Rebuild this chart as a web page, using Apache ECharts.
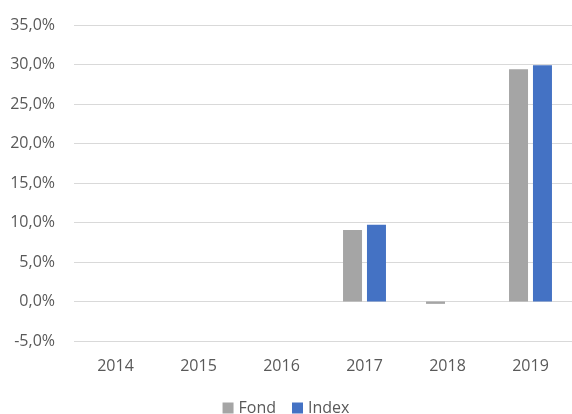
<!DOCTYPE html>
<html><head><meta charset="utf-8">
<script src="https://cdn.jsdelivr.net/npm/echarts@6/dist/echarts.min.js"></script>
<style>html,body{margin:0;padding:0;background:#fff;overflow:hidden}#c{width:572px;height:414px}</style>
</head><body><div id="c"></div>
<script>
const categories = ['2014','2015','2016','2017','2018','2019'];
const fond = [null, null, null, 9.05, -0.3, 29.4];
const index = [null, null, null, 9.7, null, 29.9];
const yTicks = {min: -5, max: 35, interval: 5};

const chart = echarts.init(document.getElementById('c'));
const font = 'Open Sans, Liberation Sans, sans-serif';
chart.setOption({
  animation: false,
  textStyle: {fontFamily: font},
  grid: {left: 74, right: -4, top: 25, bottom: 73},
  legend: {
    bottom: -7, left: 'center', itemWidth: 11, itemHeight: 11, itemGap: 16,
    icon: 'rect',
    textStyle: {color: '#595959', fontSize: 16, fontFamily: font, padding: [0, 0, 0, 0]},
    data: ['Fond', 'Index']
  },
  xAxis: {
    type: 'category', data: categories,
    axisLine: {show: false}, axisTick: {show: false},
    axisLabel: {color: '#595959', fontSize: 16, margin: 17, fontFamily: font},
    position: 'bottom'
  },
  yAxis: {
    type: 'value', min: yTicks.min, max: yTicks.max, interval: yTicks.interval,
    axisLine: {show: false}, axisTick: {show: false},
    splitLine: {lineStyle: {color: '#d9d9d9', width: 1}},
    axisLabel: {color: '#595959', fontSize: 16, margin: 19, fontFamily: font,
      formatter: v => v.toFixed(1).replace('.', ',') + '%'}
  },
  series: [
    {name: 'Fond', type: 'bar', data: fond, barWidth: 19, barGap: '26%',
     itemStyle: {color: '#A5A5A5'}},
    {name: 'Index', type: 'bar', data: index, barWidth: 19,
     itemStyle: {color: '#4472C4'}}
  ]
});
</script></body></html>
